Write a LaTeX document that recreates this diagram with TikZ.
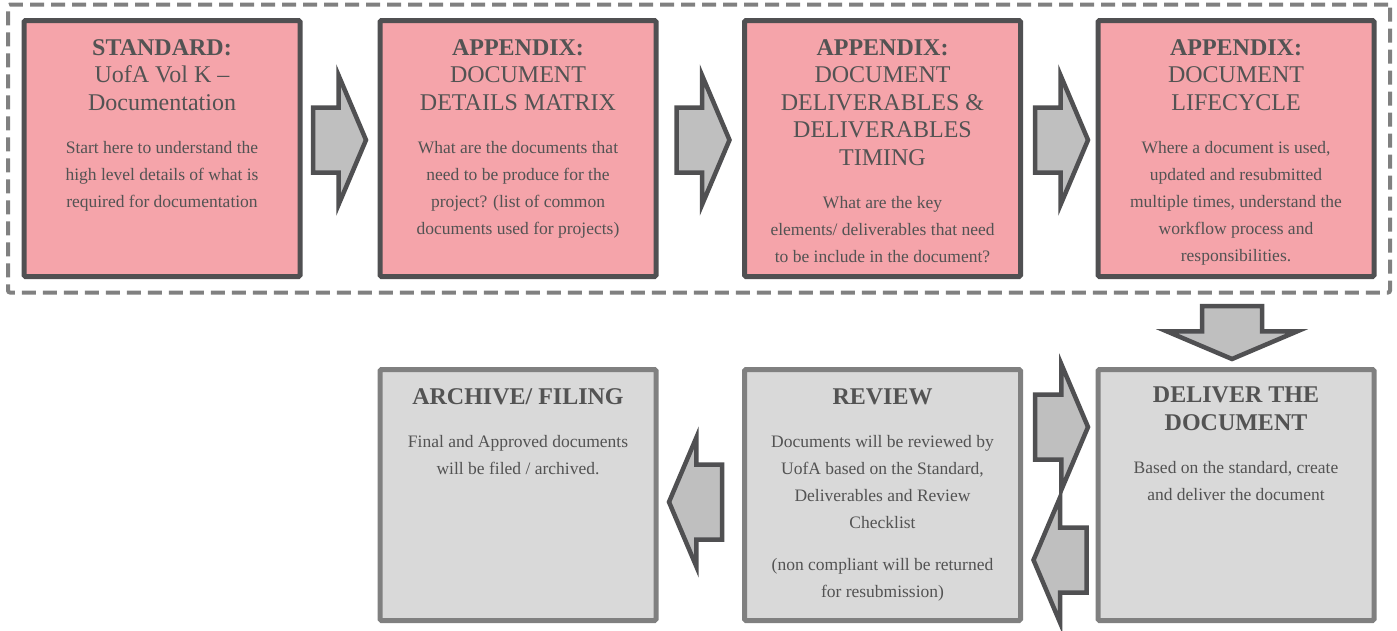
\documentclass[tikz,border=0pt]{standalone}
\usepackage{fontspec}
\setmainfont{Liberation Serif}
\usepackage{tikz}
\usetikzlibrary{positioning,fit,shapes.arrows}
\definecolor{boxpink}{RGB}{245,164,170}
\definecolor{boxgray}{RGB}{217,217,217}
\definecolor{arrowgray}{RGB}{191,191,191}
\definecolor{darkline}{RGB}{80,80,82}
\definecolor{midline}{RGB}{128,128,128}
\definecolor{txt}{RGB}{83,83,83}

\begin{document}
\begin{tikzpicture}[x=1pt,y=-1pt,
	stepbox/.style={rectangle,draw=darkline,fill=boxpink,line width=5pt,minimum width=276pt,minimum height=256pt,inner sep=0pt,outer sep=0pt,rounded corners=1.5pt},
	donebox/.style={stepbox,draw=midline,fill=boxgray,minimum height=251pt},
	boxtitle/.style={anchor=north,align=center,inner sep=0pt,outer sep=0pt,text=txt,font=\fontsize{24}{27.5}\selectfont,execute at begin node=\strut},
	boxtext/.style={below=23pt of #1,align=center,inner sep=0pt,outer sep=0pt,text=txt,font=\fontsize{17.5}{27}\selectfont,execute at begin node=\strut},
	blockarrow/.style={single arrow,draw=darkline,fill=arrowgray,line width=4.5pt,inner xsep=0pt,inner ysep=30.25pt,outer sep=0pt,minimum height=53pt,single arrow head extend=32pt,single arrow tip angle=134},
	frame/.style={draw=midline,line width=4pt,dash pattern=on 14pt off 7pt,rounded corners=2pt,inner xsep=16pt,inner ysep=16pt}
	]
	
	\useasboundingbox (0,0) rectangle (1397,630);
	
	\node[stepbox] (std) at (162,148.5) {};
	\node[stepbox] (mat) at (518,148.5) {};
	\node[stepbox] (dlv) at (882.5,148.5) {};
	\node[stepbox] (cyc) at (1236,148.5) {};
	
	\node[frame,fit=(std)(cyc)] (appx) {};
	
	\node[donebox] (arc) at (518,495) {};
	\node[donebox] (rev) at (882.5,495) {};
	\node[donebox] (del) at (1236,495) {};
	
	\node[boxtitle] (std-t) at ([yshift=-19pt]std.north) {\textbf{STANDARD:}\\UofA Vol K --\\Documentation};
	\node[boxtext=std-t] (std-b) {Start here to understand the\\high level details of what is\\required for documentation};
	
	\node[boxtitle] (mat-t) at ([yshift=-19pt]mat.north) {\textbf{APPENDIX:}\\DOCUMENT\\DETAILS MATRIX};
	\node[boxtext=mat-t] (mat-b) {What are the documents that\\need to be produce for the\\project? (list of common\\documents used for projects)};
	
	\node[boxtitle] (dlv-t) at ([yshift=-19pt]dlv.north) {\textbf{APPENDIX:}\\DOCUMENT\\DELIVERABLES \&\\DELIVERABLES\\TIMING};
	\node[boxtext=dlv-t] (dlv-b) {What are the key\\elements/ deliverables that need\\to be include in the document?};
	
	\node[boxtitle] (cyc-t) at ([yshift=-19pt]cyc.north) {\textbf{APPENDIX:}\\DOCUMENT\\LIFECYCLE};
	\node[boxtext=cyc-t] (cyc-b) {Where a document is used,\\updated and resubmitted\\multiple times, understand the\\workflow process and\\responsibilities.};
	
	\node[boxtitle,font=\bfseries\fontsize{24}{27.5}\selectfont] (arc-t) at ([yshift=-15.5pt]arc.north) {ARCHIVE/ FILING};
	\node[boxtext=arc-t] (arc-b) {Final and Approved documents\\will be filed / archived.};
	
	\node[boxtitle,font=\bfseries\fontsize{24}{27.5}\selectfont] (rev-t) at ([yshift=-15.5pt]rev.north) {REVIEW};
	\node[boxtext=rev-t] (rev-b) {Documents will be reviewed by\\UofA based on the Standard,\\Deliverables and Review\\Checklist\\[15pt](non compliant will be returned\\for resubmission)};
	
	\node[boxtitle,font=\bfseries\fontsize{24}{27.5}\selectfont] (del-t) at ([yshift=-17.5pt]del.north) {DELIVER THE\\DOCUMENT};
	\node[boxtext=del-t] (del-b) {Based on the standard, create\\and deliver the document};
	
	\node[blockarrow,anchor=tip] (std-mat) at ([xshift=-14pt,yshift=8.5pt]mat.west) {};
	\node[blockarrow,anchor=tip] (mat-dlv) at ([xshift=-15pt,yshift=8.5pt]dlv.west) {};
	\node[blockarrow,anchor=tip] (dlv-cyc) at ([xshift=-10pt,yshift=8.5pt]cyc.west) {};
	\node[blockarrow,anchor=tip,rotate=-90,inner ysep=27.75pt,single arrow head extend=35pt] (appx-del) at ([xshift=-4pt,yshift=10.5pt]del.north) {};
	\node[blockarrow,anchor=tip,single arrow head extend=30pt] (rev-del) at ([xshift=-10pt,yshift=68pt]del.west) {};
	\node[blockarrow,anchor=tip,rotate=180,single arrow head extend=30pt] (del-rev) at ([xshift=13pt,yshift=-65pt]rev.east) {};
	\node[blockarrow,anchor=tip,rotate=180,inner ysep=35.25pt,single arrow head extend=27pt] (rev-arc) at ([xshift=13pt,yshift=-7pt]arc.east) {};
	
\end{tikzpicture}
\end{document}
